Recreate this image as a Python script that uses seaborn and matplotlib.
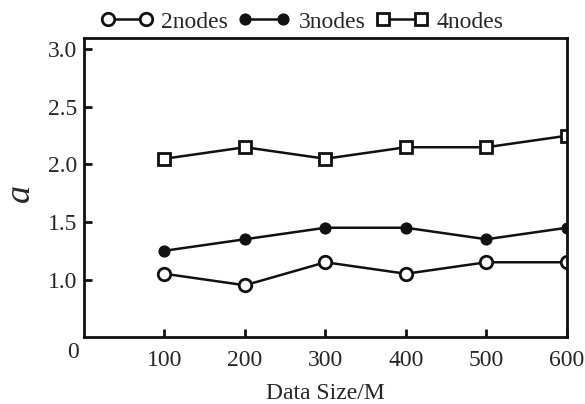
import numpy as np
import matplotlib
matplotlib.use('Agg')
import matplotlib.pyplot as plt
import seaborn as sns

sns.set_style('ticks')
plt.rcParams['font.family'] = ['Liberation Serif', 'DejaVu Serif']

# data
data_size = [100, 200, 300, 400, 500, 600]
nodes2 = [1.05, 0.95, 1.15, 1.05, 1.15, 1.15]
nodes3 = [1.25, 1.35, 1.45, 1.45, 1.35, 1.45]
nodes4 = [2.05, 2.15, 2.05, 2.15, 2.15, 2.25]
y_ticks = [1.0, 1.5, 2.0, 2.5, 3.0]
y_labels = ['1.0', '1.5', '2.0', '2.5', '3.0']

fig = plt.figure(figsize=(5.85, 4.04), dpi=100)
ax = fig.add_axes([0.1436, 0.1658, 0.969 - 0.1436, 0.906 - 0.1658])

lw = 1.8
sns.lineplot(x=data_size, y=nodes2, ax=ax, color='#111111', lw=lw, marker='o',
             markersize=9, markerfacecolor='white', markeredgecolor='#111111',
             markeredgewidth=2, label='2nodes')
sns.lineplot(x=data_size, y=nodes3, ax=ax, color='#111111', lw=lw, marker='o',
             markersize=8, markerfacecolor='#111111', markeredgecolor='#111111',
             label='3nodes')
sns.lineplot(x=data_size, y=nodes4, ax=ax, color='#111111', lw=lw, marker='s',
             markersize=9, markerfacecolor='white', markeredgecolor='#111111',
             markeredgewidth=2, label='4nodes')

ax.set_xlim(0, 600)
ax.set_ylim(0.5, 3.1)
ax.set_xticks(data_size)
ax.set_yticks(y_ticks)
ax.set_yticklabels(y_labels)
ax.tick_params(axis='both', direction='in', length=6, width=2, labelsize=17,
               color='#111111')
ax.tick_params(axis='x', pad=9)
ax.tick_params(axis='y', pad=5)
for sp in ax.spines.values():
    sp.set_linewidth(2)
    sp.set_color('#111111')
    sp.set_visible(True)

# origin label
fig.text(73 / 585, 1 - 352 / 404, '0', fontsize=17, ha='center', va='center')

ax.set_xlabel('Data Size/M', fontsize=17, labelpad=9)
# y label placed by hand so it stays inside the figure
fig.text(20 / 585, 1 - 193 / 404, 'a', fontsize=26, style='italic',
         rotation=90, ha='center', va='center')

ax.get_legend().remove()
handles, labels = ax.get_legend_handles_labels()
fig.legend(handles, labels, loc='center', bbox_to_anchor=(302 / 585, 1 - 22 / 404),
           ncol=3, frameon=False, fontsize=17, numpoints=2, handlelength=2.2,
           handletextpad=0.35, columnspacing=0.45)

plt.savefig('out.png', dpi=100)
